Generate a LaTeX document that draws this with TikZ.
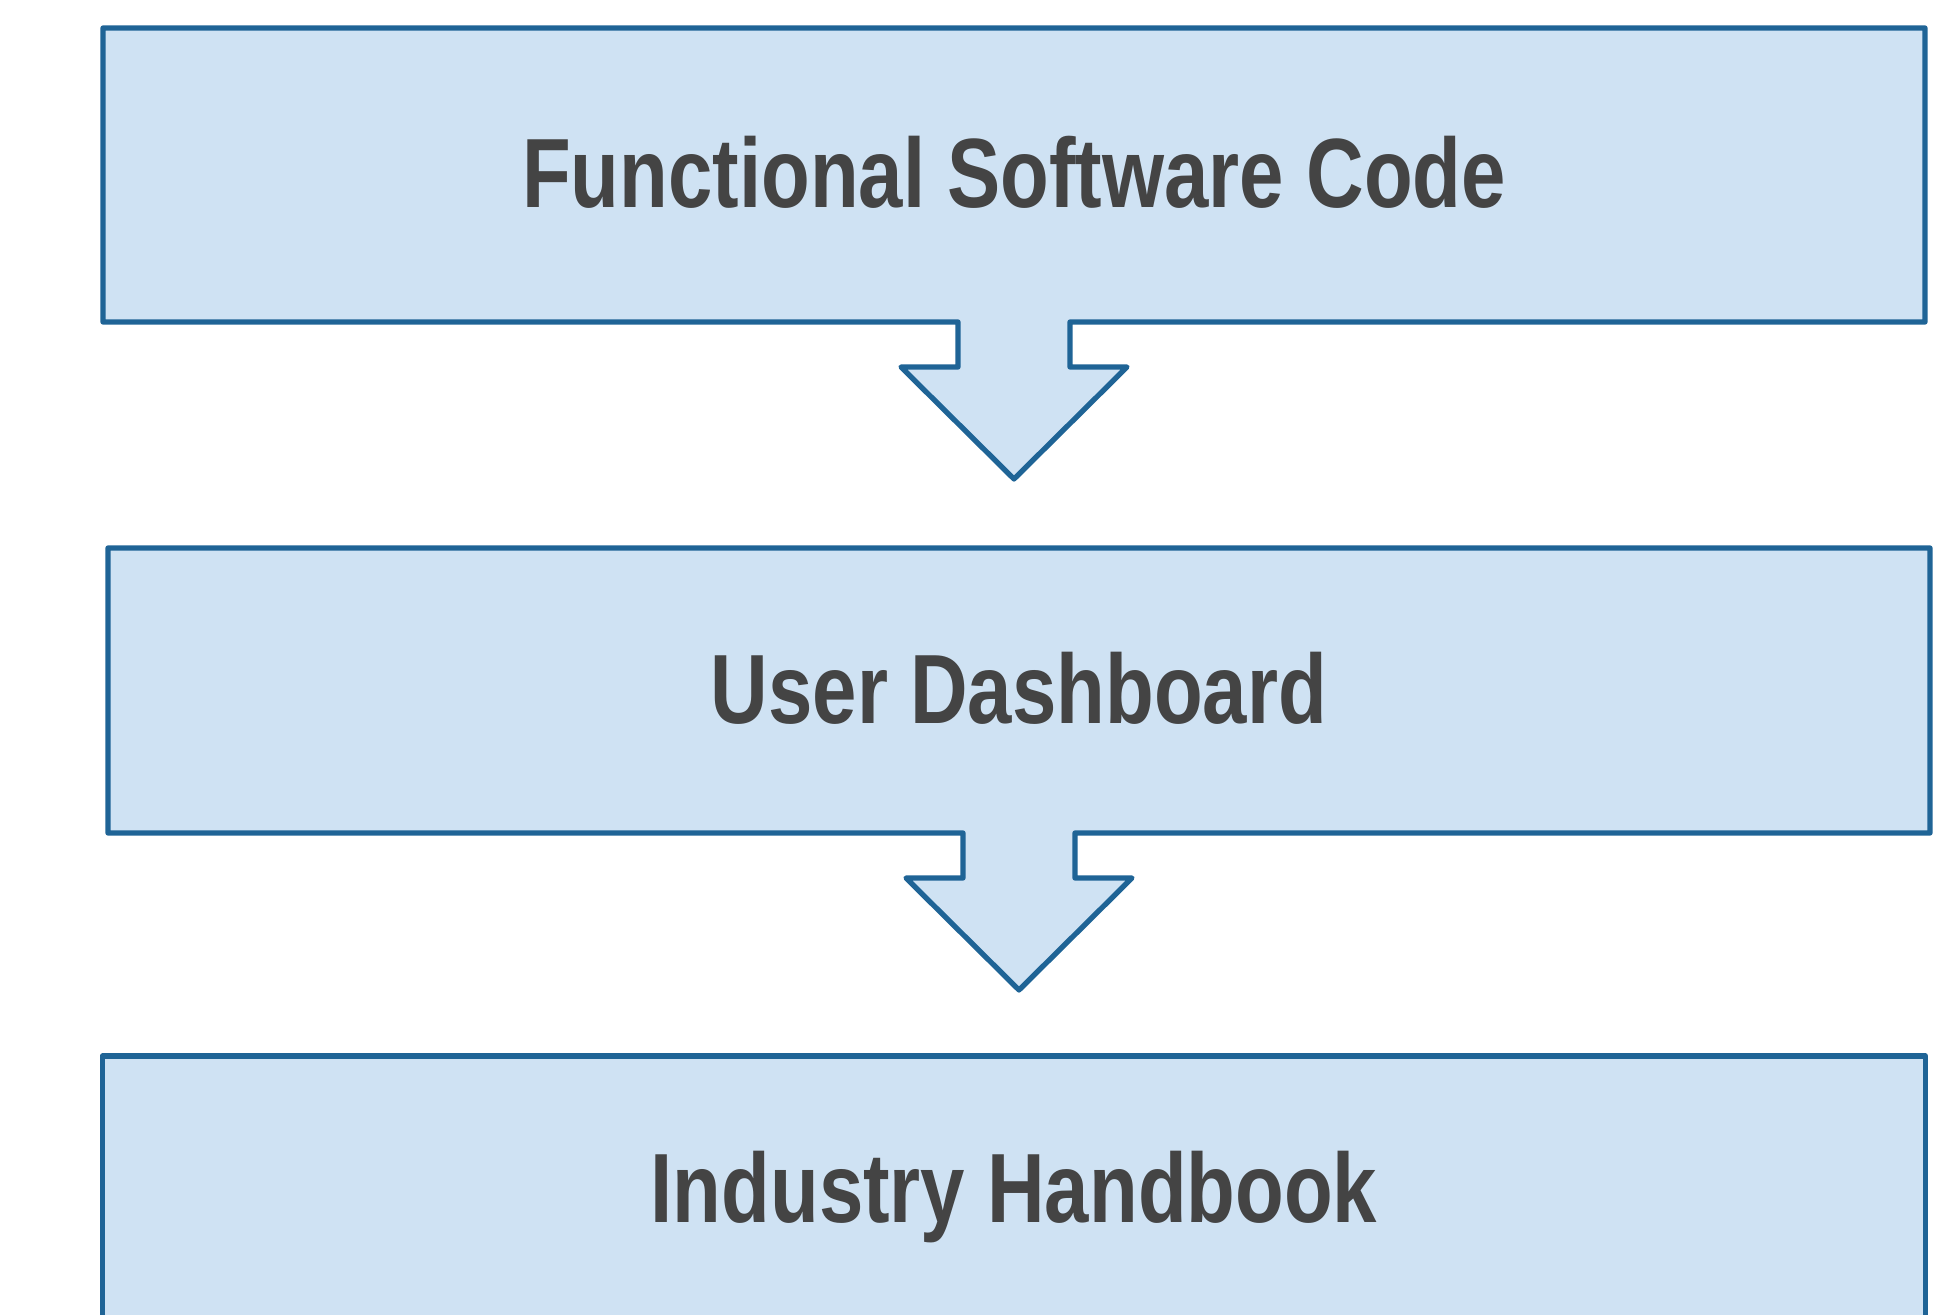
\documentclass[tikz,border=0pt]{standalone}
\usepackage{fontspec}
\setmainfont{Liberation Sans}[FakeStretch=0.81]
\usetikzlibrary{calc}
\definecolor{edgeblue}{HTML}{1F6496}
\definecolor{fillblue}{HTML}{CFE2F3}
\definecolor{textgray}{HTML}{444444}
\tikzset{
  stagebox/.style={minimum width=18.22cm,inner sep=0pt,outer sep=0pt,
    font=\fontsize{28}{32}\selectfont\bfseries,text=textgray},
  outline/.style={draw=edgeblue,fill=fillblue,line width=1.5pt,line join=round}
}
\begin{document}
\begin{tikzpicture}[x=0.01cm,y=0.01cm]
\useasboundingbox (0,0) rectangle (1953,-1315);
\pgfmathsetmacro{\sw}{56}   % shaft half width
\pgfmathsetmacro{\sl}{45}   % shaft length
\pgfmathsetmacro{\hw}{113}  % head half width
\pgfmathsetmacro{\hh}{112}  % head height
% box 1 with its arrow
\coordinate (c1) at (1014,-175);
\draw[outline] ($(c1)+(-911,-147)$) |- ($(c1)+(911,147)$) |- ($(c1)+(\sw,-147)$)
  --++(0,-\sl)--++(\hw-\sw,0)--++(-\hw,-\hh)--++(-\hw,\hh)--++(\hw-\sw,0)--++(0,\sl)--cycle;
\node[stagebox,minimum height=2.94cm] (code) at ($(c1)+(0,3)$) {Functional Software Code};
% box 2 with its arrow
\coordinate (c2) at (1019,-690.5);
\draw[outline] ($(c2)+(-911,-142.5)$) |- ($(c2)+(911,142.5)$) |- ($(c2)+(\sw,-142.5)$)
  --++(0,-\sl)--++(\hw-\sw,0)--++(-\hw,-\hh)--++(-\hw,\hh)--++(\hw-\sw,0)--++(0,\sl)--cycle;
\node[stagebox,minimum height=2.85cm] (dash) at ($(c2)+(0,2)$) {User Dashboard};
% box 3
\node[stagebox,minimum height=2.94cm,outline] (book) at (1014,-1203) {};
\node[stagebox] (booktext) at (1014,-1197) {Industry Handbook};
\end{tikzpicture}
\end{document}
